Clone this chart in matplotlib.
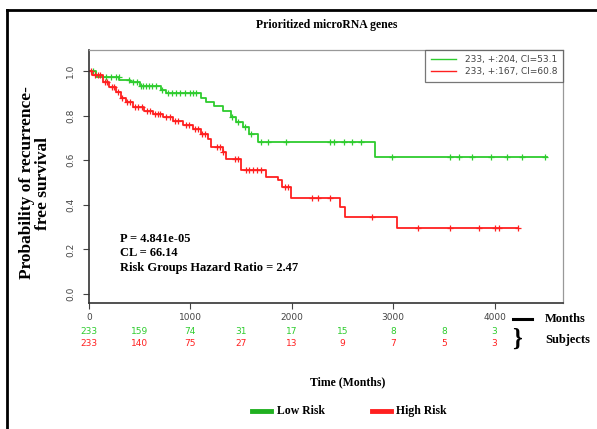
import numpy as np
import matplotlib.pyplot as plt
from matplotlib.lines import Line2D

# Courbes de survie
green_t = [0, 70, 300, 400, 500, 710, 760, 1105, 1155, 1235, 1320, 1400, 1450,
           1515, 1580, 1665, 2825, 4520]
green_s = [1.0, 0.973, 0.96, 0.95, 0.932, 0.917, 0.902, 0.88, 0.86, 0.844, 0.822,
           0.794, 0.77, 0.749, 0.717, 0.683, 0.614, 0.614]
red_t = [0, 30, 135, 197, 267, 316, 365, 431, 546, 629, 728, 826, 925, 1024, 1106,
         1172, 1204, 1320, 1352, 1500, 1747, 1866, 1905, 1994, 2478, 2527, 3040, 4235]
red_s = [1.0, 0.983, 0.95, 0.927, 0.905, 0.88, 0.86, 0.84, 0.822, 0.807, 0.792,
         0.777, 0.759, 0.74, 0.717, 0.695, 0.658, 0.635, 0.605, 0.556, 0.526, 0.51,
         0.48, 0.43, 0.39, 0.345, 0.296, 0.296]

# Temps censurés
green_cens = [40, 170, 215, 265, 295, 395, 430, 475, 510, 530, 560, 590, 625, 660,
              725, 780, 820, 860, 900, 950, 1000, 1030, 1060, 1415, 1470, 1540, 1600,
              1700, 1770, 1945, 2380, 2420, 2515, 2595, 2685, 2990, 3565, 3645, 3780,
              3970, 4125, 4275, 4500]
red_cens = [20, 60, 90, 110, 160, 180, 230, 250, 290, 330, 380, 400, 450, 480, 520,
            570, 600, 650, 680, 700, 760, 800, 850, 880, 960, 990, 1050, 1080, 1115,
            1145, 1260, 1290, 1320, 1440, 1470, 1545, 1580, 1620, 1660, 1700, 1930,
            1960, 2200, 2260, 2380, 2795, 3250, 3565, 3850, 4000, 4045, 4235]

# Table des sujets à risque
risk_times = [0, 500, 1000, 1500, 2000, 2500, 3000, 3500, 4000]
risk_low = [233, 159, 74, 31, 17, 15, 8, 8, 3]
risk_high = [233, 140, 75, 27, 13, 9, 7, 5, 3]

legend_labels = ['233, +:204, CI=53.1', '233, +:167, CI=60.8']
stats_lines = ['P = 4.841e-05', 'CL = 66.14', 'Risk Groups Hazard Ratio = 2.47']

GREEN = '#2ecc2e'
RED = '#ff2020'
SERIF = 'Liberation Serif'

fig = plt.figure(figsize=(5.97, 4.29), dpi=100)
ax = fig.add_axes([0.149, 0.2937, 0.794, 0.5897])


def censor_y(t, s, c):
    idx = np.searchsorted(t, c, side='right') - 1
    return np.array(s)[idx]


for t, s, cens, col in [(green_t, green_s, green_cens, GREEN),
                        (red_t, red_s, red_cens, RED)]:
    ax.step(t, s, where='post', color=col, lw=1.3)
    ax.plot(cens, censor_y(t, s, cens), '+', color=col, ms=5, mew=0.9)

ax.set_xlim(0, 4675)
ax.set_ylim(-0.04, 1.094)
ax.set_xticks([0, 1000, 2000, 3000, 4000])
ax.set_yticks([0.0, 0.2, 0.4, 0.6, 0.8, 1.0])
ax.set_yticklabels(['0.0', '0.2', '0.4', '0.6', '0.8', '1.0'], rotation=90, va='center')
ax.tick_params(labelsize=6.5, colors='#444444', length=4, width=0.8)
ax.tick_params(axis='x', pad=3)
ax.tick_params(axis='y', pad=6)
for sp in ['left', 'bottom']:
    ax.spines[sp].set_color('#333333')
    ax.spines[sp].set_linewidth(1.2)
for sp in ['top', 'right']:
    ax.spines[sp].set_color('#999999')
    ax.spines[sp].set_linewidth(0.9)

# Légende en haut à droite
handles = [Line2D([], [], color=GREEN, lw=1), Line2D([], [], color=RED, lw=1)]
leg = ax.legend(handles, legend_labels, loc='upper right', fontsize=6.5, frameon=True,
                fancybox=False, borderaxespad=0, handlelength=2.8, labelspacing=0.3,
                borderpad=0.6, handletextpad=1.0)
leg.get_frame().set_edgecolor('#555555')
leg.get_frame().set_linewidth(0.9)
for txt in leg.get_texts():
    txt.set_color('#444444')

# Statistiques
for i, line in enumerate(stats_lines):
    ax.text(310, 0.245 - i * 0.063, line, fontsize=9, fontweight='bold',
            family=SERIF, va='center')

# Table des risques
for x, lo, hi in zip(risk_times, risk_low, risk_high):
    xf = ax.transData.transform((x, 0))[0] / fig.bbox.width
    fig.text(xf, 1 - 332 / 429, str(lo), color=GREEN, fontsize=6.5, ha='center', va='center')
    fig.text(xf, 1 - 343 / 429, str(hi), color=RED, fontsize=6.5, ha='center', va='center')

fig.add_artist(Line2D([513 / 597, 532 / 597], [1 - 319 / 429] * 2, color='black', lw=2.2))
fig.text(545 / 597, 1 - 319 / 429, 'Months', fontsize=9, fontweight='bold', family=SERIF, va='center')
fig.text(517 / 597, 1 - 339 / 429, '}', fontsize=18, fontweight='bold', family=SERIF,
         ha='center', va='center')
fig.text(545 / 597, 1 - 340 / 429, 'Subjects', fontsize=9, fontweight='bold', family=SERIF, va='center')

# Titres
fig.text(327 / 597, 1 - 25 / 429, 'Prioritized microRNA genes', fontsize=8.5,
         fontweight='bold', family=SERIF, ha='center', va='center')
fig.text(35 / 597, 1 - 183 / 429, 'Probability of recurrence-\nfree survival', fontsize=12.5,
         fontweight='bold', family=SERIF, ha='center', va='center', rotation=90,
         linespacing=1.0)
fig.text(348 / 597, 1 - 382 / 429, 'Time (Months)', fontsize=8.5, fontweight='bold',
         family=SERIF, ha='center', va='center')

# Légende du bas
fig.add_artist(Line2D([252 / 597, 271 / 597], [1 - 411 / 429] * 2, color='#20b020', lw=3.5))
fig.text(277 / 597, 1 - 411 / 429, 'Low Risk', fontsize=8.5, fontweight='bold', family=SERIF, va='center')
fig.add_artist(Line2D([372 / 597, 391 / 597], [1 - 411 / 429] * 2, color=RED, lw=3.5))
fig.text(396 / 597, 1 - 411 / 429, 'High Risk', fontsize=8.5, fontweight='bold', family=SERIF, va='center')

# Cadre de la figure
fig.add_artist(Line2D([7 / 597, 1.0], [1 - 10 / 429] * 2, color='black', lw=2))
fig.add_artist(Line2D([7 / 597] * 2, [0, 1 - 10 / 429], color='black', lw=2))

fig.savefig('out.png', dpi=100)
